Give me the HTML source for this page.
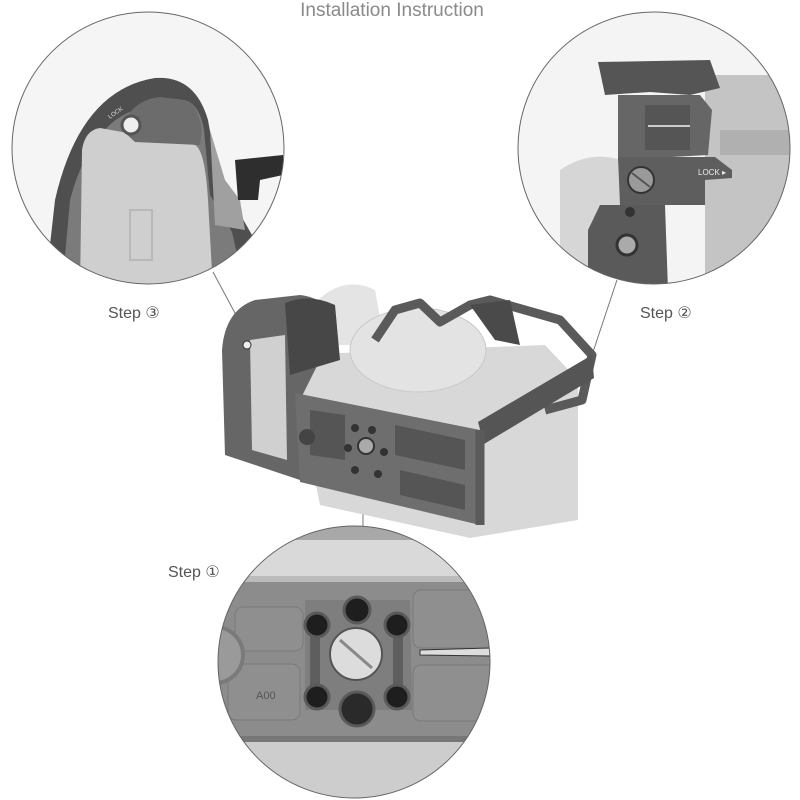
<!DOCTYPE html>
<html><head><meta charset="utf-8"><style>
html,body{margin:0;padding:0;background:#fff;width:800px;height:800px;overflow:hidden;}
svg{display:block}
text{font-family:"Liberation Sans",sans-serif;}
</style></head><body>
<svg width="800" height="800" viewBox="0 0 800 800" xmlns="http://www.w3.org/2000/svg">
<defs>
<clipPath id="c1"><circle cx="148" cy="148" r="136"/></clipPath>
<clipPath id="c2"><circle cx="654" cy="148" r="136"/></clipPath>
<clipPath id="c3"><circle cx="354" cy="662" r="136"/></clipPath>
</defs>
<rect width="800" height="800" fill="#fff"/>
<text x="392" y="16" font-size="19" fill="#8a8a8a" text-anchor="middle">Installation Instruction</text>

<!-- connectors -->
<line x1="213" y1="272" x2="243" y2="328" stroke="#777" stroke-width="1"/>
<line x1="617" y1="280" x2="593" y2="352" stroke="#777" stroke-width="1"/>
<line x1="363" y1="474" x2="363" y2="528" stroke="#777" stroke-width="1"/>

<!-- circle 1 -->
<g clip-path="url(#c1)">
<rect x="0" y="0" width="300" height="300" fill="#f5f5f5"/>
<path d="M45 290 L55 200 Q80 90 155 78 Q195 75 208 120 L215 160 L232 200 L252 235 L262 290 Z" fill="#4f4f4f"/>
<path d="M62 290 L70 200 Q90 125 135 110 L185 100 Q200 105 204 130 L210 195 L232 232 L245 290 Z" fill="#7b7b7b"/>
<path d="M80 290 L82 150 Q85 130 100 128 L195 145 Q205 150 208 200 L213 290 Z" fill="#cfcfcf"/>
<path d="M122 130 Q130 100 160 97 L185 100 Q198 105 202 130 L200 145 L135 142 Z" fill="#6c6c6c"/>
<circle cx="131" cy="125" r="9" fill="#eee" stroke="#555" stroke-width="3"/>
<text x="108" y="117" font-size="6" fill="#ddd" transform="rotate(-35 112 115)">LOCK</text>
<rect x="130" y="210" width="22" height="50" fill="none" stroke="#b8b8b8" stroke-width="2"/>
<path d="M210 130 L225 180 L240 200 L245 230 L215 225 Z" fill="#a0a0a0"/>
<path d="M235 160 L283 155 L283 175 L260 180 L258 200 L238 200 Z" fill="#2e2e2e"/>
</g>
<circle cx="148" cy="148" r="136" fill="none" stroke="#666" stroke-width="1"/>

<!-- circle 2 -->
<g clip-path="url(#c2)">
<rect x="510" y="0" width="290" height="300" fill="#f4f4f4"/>
<rect x="705" y="75" width="90" height="220" fill="#c4c4c4"/>
<path d="M560 170 Q590 150 620 160 L620 290 L560 290 Z" fill="#d6d6d6"/>
<rect x="720" y="130" width="70" height="25" fill="#b0b0b0"/>
<path d="M598 62 L710 60 L720 88 L690 95 L650 92 L605 95 Z" fill="#555"/>
<path d="M618 95 L700 95 L712 110 L708 155 L618 160 Z" fill="#666"/>
<rect x="645" y="105" width="45" height="45" fill="#555"/>
<line x1="648" y1="126" x2="690" y2="126" stroke="#ccc" stroke-width="2"/>
<path d="M618 157 L715 157 L732 170 L732 178 L705 180 L705 205 L620 205 Z" fill="#5e5e5e"/>
<circle cx="641" cy="180" r="13" fill="#9a9a9a" stroke="#333" stroke-width="2"/>
<line x1="632" y1="173" x2="650" y2="187" stroke="#555" stroke-width="2"/>
<text x="698" y="175" font-size="8" fill="#eee">LOCK ▸</text>
<path d="M600 205 L665 205 L668 290 L588 290 L588 230 Z" fill="#5a5a5a"/>
<circle cx="627" cy="245" r="10" fill="#aaa" stroke="#333" stroke-width="3"/>
<circle cx="630" cy="212" r="5" fill="#333"/>
</g>
<circle cx="654" cy="148" r="136" fill="none" stroke="#666" stroke-width="1"/>

<!-- center cage -->
<path d="M318 300 Q345 275 375 290 L385 345 L318 345 Z" fill="#e4e4e4"/>
<path d="M290 355 L545 345 L578 380 L578 520 L470 538 L320 505 Z" fill="#d8d8d8"/>
<ellipse cx="418" cy="350" rx="68" ry="42" fill="#e3e3e3" stroke="#c8c8c8"/>
<path d="M222 350 Q225 310 255 300 L300 295 Q330 298 335 330 L300 400 L300 480 L270 470 L225 455 Z" fill="#666"/>
<path d="M250 340 L285 335 L287 460 L252 450 Z" fill="#d0d0d0"/>
<path d="M285 303 Q310 293 335 305 L340 360 L290 375 Z" fill="#474747"/>
<path d="M295 393 L480 430 L480 525 L300 482 Z" fill="#6e6e6e"/>
<path d="M310 410 L345 415 L345 460 L310 455 Z" fill="#555"/>
<path d="M395 425 L465 440 L465 470 L395 455 Z" fill="#555"/>
<path d="M400 470 L465 485 L465 510 L400 495 Z" fill="#555"/>
<circle cx="355" cy="428" r="4" fill="#333"/><circle cx="372" cy="430" r="4" fill="#333"/>
<circle cx="348" cy="448" r="4" fill="#333"/><circle cx="384" cy="452" r="4" fill="#333"/>
<circle cx="366" cy="446" r="8" fill="#aaa" stroke="#333" stroke-width="2"/>
<circle cx="355" cy="470" r="4" fill="#333"/><circle cx="378" cy="474" r="4" fill="#333"/>
<circle cx="307" cy="437" r="8" fill="#444"/>
<path d="M375 340 L395 310 L420 303 L440 322 L470 305 L490 300 L560 320 L592 355 L582 400 L545 410" fill="none" stroke="#5a5a5a" stroke-width="9" stroke-linejoin="round"/>
<path d="M470 305 L510 300 L520 345 L495 340 Z" fill="#4a4a4a"/>
<path d="M478 422 L592 355 L594 378 L484 444 Z" fill="#555"/>
<line x1="480" y1="430" x2="480" y2="525" stroke="#5a5a5a" stroke-width="9"/>
<circle cx="247" cy="345" r="4" fill="#eee" stroke="#333"/>

<!-- circle 3 -->
<g clip-path="url(#c3)">
<rect x="210" y="520" width="290" height="290" fill="#8c8c8c"/>
<rect x="210" y="520" width="290" height="20" fill="#a8a8a8"/>
<rect x="210" y="540" width="290" height="38" fill="#d9d9d9"/>
<rect x="210" y="576" width="290" height="6" fill="#bbb"/>
<rect x="210" y="740" width="290" height="70" fill="#cdcdcd"/>
<rect x="210" y="736" width="290" height="6" fill="#777"/>
<rect x="235" y="607" width="68" height="44" rx="8" fill="#8f8f8f" stroke="#7a7a7a"/>
<rect x="228" y="664" width="72" height="56" rx="8" fill="#8f8f8f" stroke="#7a7a7a"/>
<rect x="413" y="590" width="90" height="58" rx="8" fill="#8f8f8f" stroke="#7a7a7a"/>
<rect x="413" y="665" width="90" height="56" rx="8" fill="#8f8f8f" stroke="#7a7a7a"/>
<circle cx="215" cy="655" r="28" fill="#9a9a9a" stroke="#7a7a7a" stroke-width="4"/>
<path d="M305 600 L410 600 L412 710 L305 710 Z" fill="#7e7e7e"/>
<rect x="310" y="635" width="10" height="60" rx="4" fill="#5e5e5e"/>
<rect x="393" y="635" width="10" height="60" rx="4" fill="#5e5e5e"/>
<circle cx="357" cy="610" r="13" fill="#1e1e1e" stroke="#5a5a5a" stroke-width="3"/>
<circle cx="317" cy="625" r="12" fill="#1e1e1e" stroke="#5a5a5a" stroke-width="3"/>
<circle cx="397" cy="625" r="12" fill="#1e1e1e" stroke="#5a5a5a" stroke-width="3"/>
<circle cx="317" cy="697" r="12" fill="#1e1e1e" stroke="#5a5a5a" stroke-width="3"/>
<circle cx="397" cy="697" r="12" fill="#1e1e1e" stroke="#5a5a5a" stroke-width="3"/>
<circle cx="357" cy="709" r="17" fill="#2a2a2a" stroke="#5a5a5a" stroke-width="3"/>
<circle cx="356" cy="654" r="26" fill="#dcdcdc" stroke="#555" stroke-width="2"/>
<line x1="340" y1="640" x2="372" y2="668" stroke="#888" stroke-width="3"/>
<path d="M420 650 L490 648 L490 656 L420 655 Z" fill="#ddd" stroke="#333"/>
<text x="256" y="699" font-size="11" fill="#555">A00</text>
</g>
<circle cx="354" cy="662" r="136" fill="none" stroke="#666" stroke-width="1"/>

<text x="108" y="318" font-size="16" fill="#555">Step ③</text>
<text x="640" y="318" font-size="16" fill="#555">Step ②</text>
<text x="168" y="577" font-size="16" fill="#555">Step ①</text>
</svg>
</body></html>
